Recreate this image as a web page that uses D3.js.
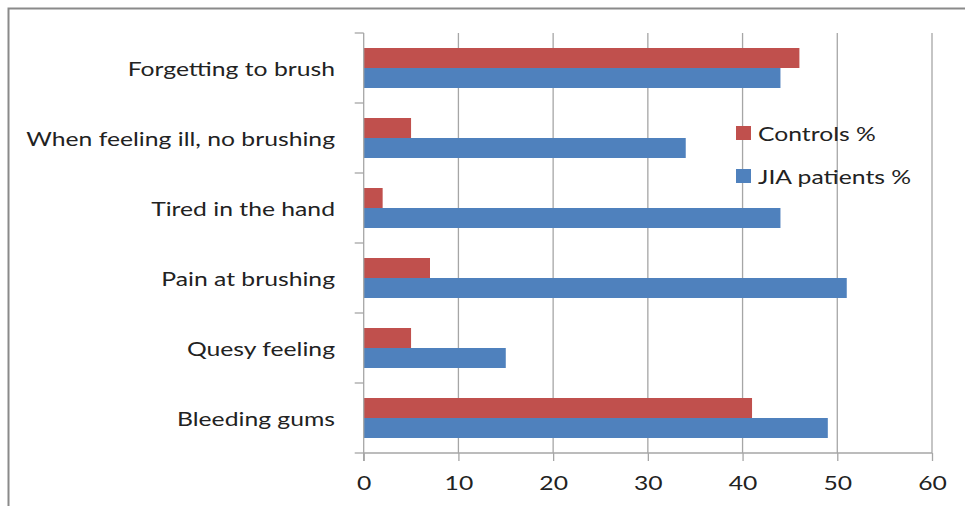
<!DOCTYPE html>
<html>
<head>
<meta charset="utf-8">
<script src="https://cdn.jsdelivr.net/npm/d3@7"></script>
<style>
  html, body { margin: 0; padding: 0; background: #fff; }
  svg { display: block; font-family: Lato, "Open Sans", sans-serif; }
</style>
</head>
<body>
<svg id="chart" width="965" height="506"></svg>
<script>
// Reasons reported for not brushing, by group (percent)
const categories = [
  "Forgetting to brush",
  "When feeling ill, no brushing",
  "Tired in the hand",
  "Pain at brushing",
  "Quesy feeling",
  "Bleeding gums"
];
const controls = [46, 5, 2, 7, 5, 41];
const jiaPatients = [44, 34, 44, 51, 15, 49];
const seriesNames = ["Controls %", "JIA patients %"];
const seriesColors = ["#C0504D", "#4F81BD"];
const xTicks = [0, 10, 20, 30, 40, 50, 60];

const svg = d3.select("#chart");
const plot = { left: 363.7, right: 932, top: 33, bottom: 453 };
const fontSize = "20px";
const stretch = 1.236; // wide horizontal text proportions

// Outer chart frame (continues past right and bottom edges)
svg.append("path")
  .attr("d", "M8.5,520 V8.5 H980")
  .attr("fill", "none")
  .attr("stroke", "#8a8a8a")
  .attr("stroke-width", 2);

const x = d3.scaleLinear().domain([0, 60]).range([plot.left, plot.right]);
const y = d3.scaleBand().domain(categories).range([plot.top, plot.bottom]).paddingInner(0.4286).paddingOuter(0.2143);
const ySeries = d3.scaleBand().domain(seriesNames).range([0, y.bandwidth()]);

// Vertical gridlines
svg.append("g")
  .selectAll("line")
  .data(xTicks.filter(d => d > 0))
  .join("line")
  .attr("x1", d => x(d)).attr("x2", d => x(d))
  .attr("y1", plot.top).attr("y2", plot.bottom)
  .attr("stroke", "#a6a6a6").attr("stroke-width", 1.3);

// Bars
const rows = categories.map((c, i) => ({ cat: c, values: [controls[i], jiaPatients[i]] }));
const groups = svg.append("g").selectAll("g")
  .data(rows)
  .join("g")
  .attr("transform", d => `translate(0,${y(d.cat)})`);

groups.selectAll("rect")
  .data(d => d.values.map((v, j) => ({ v, j })))
  .join("rect")
  .attr("x", x(0))
  .attr("y", d => ySeries(seriesNames[d.j]))
  .attr("width", d => x(d.v) - x(0))
  .attr("height", ySeries.bandwidth())
  .attr("fill", d => seriesColors[d.j]);

// Category axis: line plus boundary ticks
const catStep = (plot.bottom - plot.top) / categories.length;
const boundaries = d3.range(categories.length + 1).map(i => plot.top + i * catStep);
const yAxisG = svg.append("g").attr("stroke", "#a6a6a6").attr("stroke-width", 1.3);
yAxisG.append("line").attr("x1", plot.left).attr("x2", plot.left).attr("y1", plot.top).attr("y2", plot.bottom + 8);
yAxisG.selectAll("line.tick").data(boundaries).join("line").attr("class", "tick")
  .attr("x1", plot.left - 9).attr("x2", plot.left).attr("y1", d => d).attr("y2", d => d);

// Value axis with ticks
const xAxis = d3.axisBottom(x).tickValues(xTicks).tickSize(8).tickPadding(15).tickFormat(d3.format("d"));
const xAxisG = svg.append("g").attr("transform", `translate(0,${plot.bottom})`).call(xAxis);
xAxisG.select(".domain").attr("d", `M${plot.left},0H${plot.right}`).attr("stroke", "#a6a6a6").attr("stroke-width", 1.3);
xAxisG.selectAll(".tick line").attr("stroke", "#a6a6a6").attr("stroke-width", 1.3);
xAxisG.selectAll(".tick text")
  .attr("fill", "#222")
  .attr("transform", `scale(${stretch},1)`)
  .style("font-family", "Lato, sans-serif")
  .style("font-size", fontSize);

// Category labels
svg.append("g").selectAll("text")
  .data(categories)
  .join("text")
  .attr("transform", d => `translate(335,${y(d) + y.bandwidth() / 2}) scale(${stretch},1)`)
  .attr("text-anchor", "end")
  .attr("dominant-baseline", "central")
  .attr("fill", "#222")
  .style("font-size", fontSize)
  .text(d => d);

// Legend
const legend = svg.append("g").attr("transform", "translate(736,126)");
const items = legend.selectAll("g").data(seriesNames).join("g")
  .attr("transform", (d, i) => `translate(0,${i * 43})`);
items.append("rect").attr("width", 15).attr("height", 14).attr("fill", (d, i) => seriesColors[i]);
items.append("text")
  .attr("transform", `translate(22,7) scale(${stretch},1)`)
  .attr("dominant-baseline", "central")
  .attr("fill", "#222")
  .style("font-size", fontSize)
  .text(d => d);
</script>
</body>
</html>
